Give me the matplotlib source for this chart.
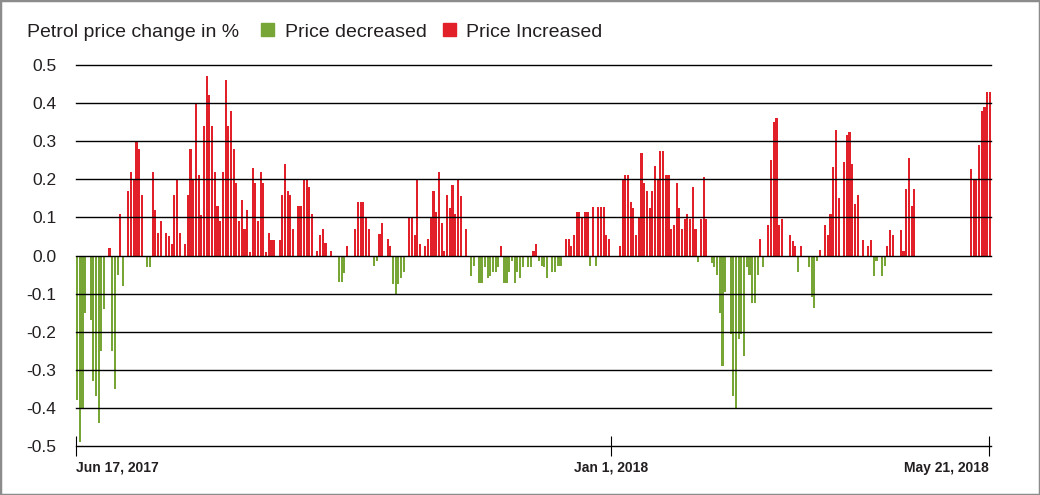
import matplotlib
matplotlib.use("Agg")
import matplotlib.pyplot as plt
import matplotlib.dates as mdates
from matplotlib.patches import Rectangle
import pandas as pd

# 날짜 범위 (하루 간격)
start_date = "2017-06-17"
end_date = "2018-05-21"

# 일별 휘발유 가격 변동률 (%)
price_change = [
    -0.38, -0.49, -0.40, -0.15, 0, -0.17, -0.33, -0.37, -0.44, -0.25,
    -0.14, 0, 0.02, -0.25, -0.35, -0.05, 0.11, -0.08, 0, 0.17,
    0.22, 0.20, 0.30, 0.28, 0.16, 0, -0.03, -0.03, 0.22, 0.12,
    0.06, 0.09, 0, 0.06, 0.05, 0.03, 0.16, 0.20, 0.06, 0,
    0.03, 0.16, 0.28, 0.20, 0.40, 0.21, 0.105, 0.34, 0.47, 0.42,
    0.34, 0.22, 0.13, 0.09, 0.22, 0.46, 0.34, 0.38, 0.28, 0.19,
    0.09, 0.145, 0.07, 0.12, 0.01, 0.23, 0.19, 0.09, 0.22, 0.19,
    0.01, 0.06, 0.04, 0.04, 0, 0.04, 0.16, 0.24, 0.17, 0.16,
    0.07, 0, 0.13, 0.13, 0.20, 0.20, 0.18, 0.11, 0, 0.013,
    0.055, 0.07, 0.033, 0, 0.013, 0, 0, -0.07, -0.07, -0.045,
    0.026, 0, 0, 0.07, 0.14, 0.14, 0.14, 0.10, 0.07, 0,
    -0.028, -0.015, 0.057, 0.086, 0, 0.042, 0.026, -0.074, -0.10, -0.074,
    -0.06, -0.044, 0, 0.10, 0.10, 0.055, 0.20, 0.03, 0, 0.026,
    0.042, 0.10, 0.17, 0.115, 0.22, 0.086, 0.013, 0.16, 0.125, 0.185,
    0.11, 0.20, 0.155, 0, 0.07, 0, -0.054, -0.028, 0, -0.072,
    -0.072, -0.03, -0.06, -0.054, -0.044, -0.044, -0.03, 0.026, -0.072, -0.072,
    -0.044, -0.015, -0.072, -0.044, -0.06, -0.03, 0, -0.03, -0.03, 0.013,
    0.03, -0.015, -0.028, -0.03, -0.06, 0, -0.044, -0.044, -0.028, -0.028,
    0, 0.042, 0.042, 0.026, 0.055, 0.115, 0.115, 0.10, 0.115, 0.115,
    -0.028, 0.128, -0.028, 0.128, 0.128, 0.128, 0.055, 0.042, 0, 0,
    0, 0.026, 0.20, 0.21, 0.21, 0.14, 0.125, 0.055, 0.10, 0.27,
    0.19, 0.17, 0.125, 0.17, 0.236, 0.20, 0.275, 0.275, 0.21, 0.21,
    0.07, 0.08, 0.19, 0.125, 0.07, 0.095, 0.11, 0.095, 0.18, 0.07,
    -0.018, 0.095, 0.205, 0.095, 0, -0.02, -0.03, -0.05, -0.15, -0.29,
    -0.095, 0, -0.205, -0.37, -0.40, -0.22, -0.205, -0.265, -0.03, -0.05,
    -0.125, -0.125, -0.05, 0.042, -0.03, 0, 0.08, 0.25, 0.35, 0.36,
    0.08, 0.095, 0, 0, 0.053, 0.038, 0.025, -0.044, 0.026, 0,
    0, -0.03, -0.11, -0.138, -0.015, 0.014, 0, 0.08, 0.053, 0.108,
    0.233, 0.33, 0.15, 0, 0.245, 0.315, 0.325, 0.24, 0.134, 0.16,
    0, 0.04, 0, 0.026, 0.04, -0.054, -0.015, 0, -0.054, -0.028,
    0.026, 0.067, 0.053, 0, 0, 0.067, 0.011, 0.174, 0.255, 0.13,
    0.174, 0, 0, 0, 0, 0, 0, 0, 0, 0,
    0, 0, 0, 0, 0, 0, 0, 0, 0, 0,
    0, 0.228, 0.20, 0.20, 0.29, 0.38, 0.39, 0.43, 0.43,
]

# 축 눈금
y_ticks = [0.5, 0.4, 0.3, 0.2, 0.1, 0.0, -0.1, -0.2, -0.3, -0.4, -0.5]
x_tick_dates = ["2017-06-17", "2018-01-01", "2018-05-21"]
x_tick_labels = ["Jun 17, 2017", "Jan 1, 2018", "May 21, 2018"]

title_text = "Petrol price change in %"
legend_labels = ["Price decreased", "Price Increased"]

GREEN = "#77a637"
RED = "#e2202a"
TEXT = "#231f20"

# 좁은 글꼴 (Liberation Sans)
plt.rcParams["font.family"] = ["Liberation Sans", "DejaVu Sans"]

dates = pd.date_range(start_date, end_date, freq="D")
assert len(dates) == len(price_change)
colors = [GREEN if v < 0 else RED for v in price_change]

fig = plt.figure(figsize=(10.4, 4.95), dpi=100)
ax = fig.add_axes([76 / 1040, 1 - 446 / 495, (991 - 76) / 1040, (446 - 65) / 495])

ax.bar(dates, price_change, width=0.78, align="edge", color=colors, linewidth=0, zorder=2)

# 가로 격자선 (막대 위에 그림)
for t in y_ticks:
    ax.axhline(t, color="black", linewidth=1.0, zorder=3, clip_on=False)

ax.set_ylim(-0.5, 0.5)
ax.set_xlim(pd.Timestamp(start_date), pd.Timestamp(end_date) + pd.Timedelta(days=0.8))
ax.set_yticks(y_ticks)
ax.set_yticklabels([f"{t:.1f}" for t in y_ticks], fontsize=12.5, color=TEXT)
ax.tick_params(axis="y", length=0, pad=14)

ax.set_xticks([mdates.date2num(pd.Timestamp(d)) for d in x_tick_dates])
ax.set_xticklabels(x_tick_labels, fontsize=10, fontweight="bold", color=TEXT)
for lbl, ha in zip(ax.get_xticklabels(), ["left", "center", "right"]):
    lbl.set_horizontalalignment(ha)
ax.tick_params(axis="x", direction="inout", length=15, width=0.8, color="black", pad=3)

for s in ax.spines.values():
    s.set_visible(False)

# 제목과 범례
fig.text(27 / 1040, 1 - 37 / 495, title_text, fontsize=14, color=TEXT, va="baseline")
fig.add_artist(Rectangle((261 / 1040, 1 - 36 / 495), 13 / 1040, 13 / 495,
                         transform=fig.transFigure, color=GREEN))
fig.text(285 / 1040, 1 - 37 / 495, legend_labels[0], fontsize=14, color=TEXT, va="baseline")
fig.add_artist(Rectangle((443 / 1040, 1 - 36 / 495), 13 / 1040, 13 / 495,
                         transform=fig.transFigure, color=RED))
fig.text(466 / 1040, 1 - 37 / 495, legend_labels[1], fontsize=14, color=TEXT, va="baseline")

# 바깥 테두리
fig.add_artist(Rectangle((0, 0), 1, 1, transform=fig.transFigure, fill=False,
                         edgecolor="#8c8c8c", linewidth=2.5))

fig.savefig("out.png", dpi=100)
